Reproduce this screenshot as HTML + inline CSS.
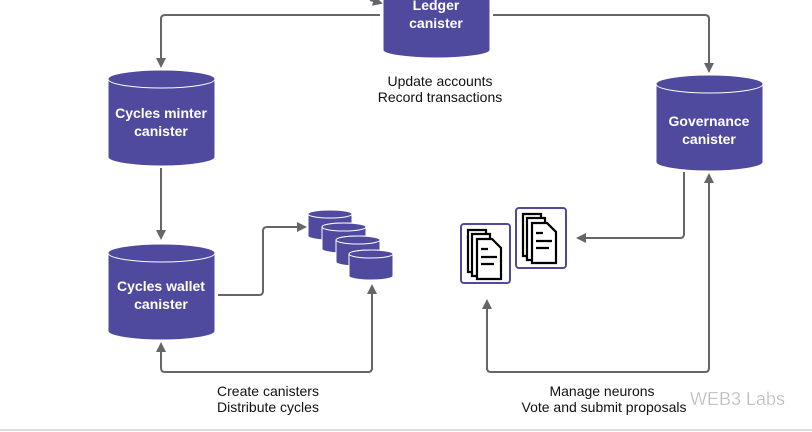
<!DOCTYPE html>
<html><head><style>body{margin:0;background:#fff}svg{display:block}</style></head><body>
<svg width="812" height="432" viewBox="0 0 812 432" xmlns="http://www.w3.org/2000/svg" font-family="Liberation Sans, sans-serif">
<defs>
<marker id="a" markerWidth="10" markerHeight="10" refX="8" refY="5" orient="auto" markerUnits="userSpaceOnUse"><path d="M0,0 L10,5 L0,10 z" fill="#666"/></marker>
</defs>
<g fill="none" stroke="#666" stroke-width="2">
<path d="M380,15 H165 Q161,15 161,19 V66" marker-end="url(#a)"/>
<path d="M493,15 H705 Q709,15 709,19 V71" marker-end="url(#a)"/>
<path d="M161,168 V238" marker-end="url(#a)"/>
<path d="M218,295 H259 Q263,295 263,291 V231 Q263,227 267,227 H305" marker-end="url(#a)"/>
<path d="M372,370 V286" marker-end="url(#a)"/>
<path d="M372,368 Q372,372 368,372 H165 Q161,372 161,368 V344" marker-end="url(#a)"/>
<path d="M684,172 V234 Q684,238 680,238 H578" marker-end="url(#a)"/>
<path d="M487,370 V301" marker-end="url(#a)"/>
<path d="M487,368 Q487,372 491,372 H705 Q709,372 709,368 V175" marker-end="url(#a)"/>
<path d="M370,0 L381,3" marker-end="url(#a)"/>
</g>
<g fill="#4f4a9e" stroke="#fff" stroke-width="1">
<path d="M383,-10 V50 A53.5,8 0 0 0 490,50 V-10 z"/>
<path d="M108,79 V157 A53.5,9 0 0 0 215,157 V79 A53.5,9 0 0 0 108,79 z"/><ellipse cx="161.5" cy="79" rx="53.5" ry="9"/>
<path d="M108,253 V331 A53.5,9 0 0 0 215,331 V253 A53.5,9 0 0 0 108,253 z"/><ellipse cx="161.5" cy="253" rx="53.5" ry="9"/>
<path d="M656,84 V162 A53.5,9 0 0 0 763,162 V84 A53.5,9 0 0 0 656,84 z"/><ellipse cx="709.5" cy="84" rx="53.5" ry="9"/>
<path d="M308,214 V236 A22,4 0 0 0 352,236 V214 A22,4 0 0 0 308,214 z"/><ellipse cx="330" cy="214" rx="22" ry="4"/>
<path d="M322,227 V249 A22,4 0 0 0 366,249 V227 A22,4 0 0 0 322,227 z"/><ellipse cx="344" cy="227" rx="22" ry="4"/>
<path d="M336,240 V262 A22,4 0 0 0 380,262 V240 A22,4 0 0 0 336,240 z"/><ellipse cx="358" cy="240" rx="22" ry="4"/>
<path d="M349,254 V276 A22,4 0 0 0 393,276 V254 A22,4 0 0 0 349,254 z"/><ellipse cx="371" cy="254" rx="22" ry="4"/>
</g>
<g fill="#fff" font-weight="bold" font-size="14" text-anchor="middle">
<text x="436" y="10">Ledger</text><text x="436" y="28">canister</text>
<text x="161" y="118">Cycles minter</text><text x="161" y="136">canister</text>
<text x="161" y="291">Cycles wallet</text><text x="161" y="309">canister</text>
<text x="709" y="126">Governance</text><text x="709" y="144">canister</text>
</g>
<g font-size="14" fill="#111" text-anchor="middle">
<text x="440" y="86">Update accounts</text><text x="440" y="102">Record transactions</text>
<text x="268" y="396">Create canisters</text><text x="268" y="412">Distribute cycles</text>
<text x="602" y="396">Manage neurons</text><text x="604" y="412">Vote and submit proposals</text>
</g>
<text x="690" y="405" font-size="18" fill="#bbb" stroke="#fff" stroke-width="0.3">WEB3 Labs</text>
<g fill="none" stroke="#4f4a9e" stroke-width="2">
<rect x="461" y="224" width="49" height="59" rx="3"/>
<rect x="516" y="208" width="50" height="60" rx="3"/>
</g>
<g fill="#fff" stroke="#000" stroke-width="2.2">
<path d="M468,230 h18 v42 h-18 z"/><path d="M472,234 h18 v42 h-18 z"/><path d="M477,239 h15 l9,9 v31 h-24 z"/>
<path d="M481,249 h7 M481,257 h16 M481,264 h13" fill="none"/>
<path d="M523,214 h18 v42 h-18 z"/><path d="M527,218 h18 v42 h-18 z"/><path d="M532,223 h15 l9,9 v31 h-24 z"/>
<path d="M536,233 h7 M536,241 h16 M536,248 h13" fill="none"/>
</g>
<line x1="0" y1="430" x2="812" y2="430" stroke="#ddd" stroke-width="2"/>
</svg>
</body></html>
